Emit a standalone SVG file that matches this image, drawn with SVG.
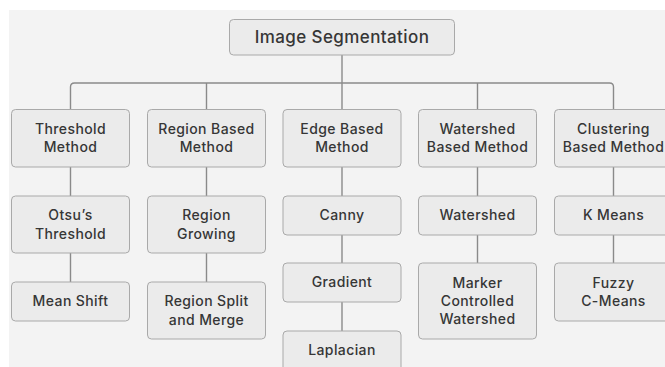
<svg xmlns="http://www.w3.org/2000/svg" width="665" height="367" viewBox="0 0 665 367">
  <style>
    .box { fill: #ebebeb; stroke: #a9a9a9; stroke-width: 1; }
    .lbl { font-family: Inter, "Noto Sans", "Liberation Sans", sans-serif; font-size: 14px; letter-spacing: 0.4px; font-weight: 500; fill: #363636; text-anchor: middle; }
    .root { font-size: 17px; }
    .wire { fill: none; stroke: #8a8a8a; stroke-width: 1.4; }
  </style>
  <rect x="0" y="0" width="665" height="367" fill="#ffffff"/>
  <rect x="9" y="10" width="656" height="357" fill="#f3f3f3"/>

  <!-- connectors -->
  <g id="connectors">
    <path class="wire" d="M342 55 V83"/>
    <path class="wire" d="M70.5 109 V87 Q70.5 83 74.5 83 H609.5 Q613.5 83 613.5 87 V109"/>
    <path class="wire" d="M206.5 83 V109 M477.5 83 V109 M342 83 V109"/>
    <path class="wire" d="M70.5 167 V196 M70.5 253 V282"/>
    <path class="wire" d="M206.5 167 V196 M206.5 253 V282"/>
    <path class="wire" d="M342 167 V196 M342 235 V263 M342 302 V331"/>
    <path class="wire" d="M477.5 167 V196 M477.5 235 V263"/>
    <path class="wire" d="M613.5 167 V196 M613.5 235 V263"/>
  </g>

  <!-- root -->
  <g id="root">
    <rect class="box" x="229.5" y="19.5" width="225" height="35.5" rx="4"/>
    <text class="lbl root" x="342" y="43.2">Image Segmentation</text>
  </g>

  <!-- level 1 -->
  <g id="threshold-method">
    <rect class="box" x="11.5" y="109.5" width="118" height="57.5" rx="4"/>
    <text class="lbl" x="70.5" y="133.6">Threshold</text>
    <text class="lbl" x="70.5" y="152">Method</text>
  </g>
  <g id="region-method">
    <rect class="box" x="147.5" y="109.5" width="118" height="57.5" rx="4"/>
    <text class="lbl" x="206.5" y="133.6">Region Based</text>
    <text class="lbl" x="206.5" y="152">Method</text>
  </g>
  <g id="edge-method">
    <rect class="box" x="283" y="109.5" width="118" height="57.5" rx="4"/>
    <text class="lbl" x="342" y="133.6">Edge Based</text>
    <text class="lbl" x="342" y="152">Method</text>
  </g>
  <g id="watershed-method">
    <rect class="box" x="418.5" y="109.5" width="118" height="57.5" rx="4"/>
    <text class="lbl" x="477.5" y="133.6">Watershed</text>
    <text class="lbl" x="477.5" y="152">Based Method</text>
  </g>
  <g id="clustering-method">
    <rect class="box" x="554.5" y="109.5" width="118" height="57.5" rx="4"/>
    <text class="lbl" x="613.5" y="133.6">Clustering</text>
    <text class="lbl" x="613.5" y="152">Based Method</text>
  </g>

  <!-- level 2 -->
  <g id="otsu">
    <rect class="box" x="11.5" y="196" width="118" height="57" rx="4"/>
    <text class="lbl" x="70.5" y="220.2">Otsu’s</text>
    <text class="lbl" x="70.5" y="238.6">Threshold</text>
  </g>
  <g id="region-growing">
    <rect class="box" x="147.5" y="196" width="118" height="57" rx="4"/>
    <text class="lbl" x="206.5" y="220.2">Region</text>
    <text class="lbl" x="206.5" y="238.6">Growing</text>
  </g>
  <g id="canny">
    <rect class="box" x="283" y="196" width="118" height="39" rx="4"/>
    <text class="lbl" x="342" y="220.2">Canny</text>
  </g>
  <g id="watershed">
    <rect class="box" x="418.5" y="196" width="118" height="39" rx="4"/>
    <text class="lbl" x="477.5" y="220.2">Watershed</text>
  </g>
  <g id="k-means">
    <rect class="box" x="554.5" y="196" width="118" height="39" rx="4"/>
    <text class="lbl" x="613.5" y="220.2">K Means</text>
  </g>

  <!-- level 3 -->
  <g id="mean-shift">
    <rect class="box" x="11.5" y="282" width="118" height="39" rx="4"/>
    <text class="lbl" x="70.5" y="306.2">Mean Shift</text>
  </g>
  <g id="split-merge">
    <rect class="box" x="147.5" y="282" width="118" height="57" rx="4"/>
    <text class="lbl" x="206.5" y="306.2">Region Split</text>
    <text class="lbl" x="206.5" y="324.6">and Merge</text>
  </g>
  <g id="gradient">
    <rect class="box" x="283" y="263" width="118" height="39" rx="4"/>
    <text class="lbl" x="342" y="287.2">Gradient</text>
  </g>
  <g id="marker-watershed">
    <rect class="box" x="418.5" y="263" width="118" height="76" rx="4"/>
    <text class="lbl" x="477.5" y="287.5">Marker</text>
    <text class="lbl" x="477.5" y="305.9">Controlled</text>
    <text class="lbl" x="477.5" y="324.3">Watershed</text>
  </g>
  <g id="fuzzy-c-means">
    <rect class="box" x="554.5" y="263" width="118" height="58" rx="4"/>
    <text class="lbl" x="613.5" y="287.5">Fuzzy</text>
    <text class="lbl" x="613.5" y="305.9">C-Means</text>
  </g>

  <!-- level 4 -->
  <g id="laplacian">
    <rect class="box" x="283" y="331" width="118" height="45" rx="4"/>
    <text class="lbl" x="342" y="355.2">Laplacian</text>
  </g>
</svg>
